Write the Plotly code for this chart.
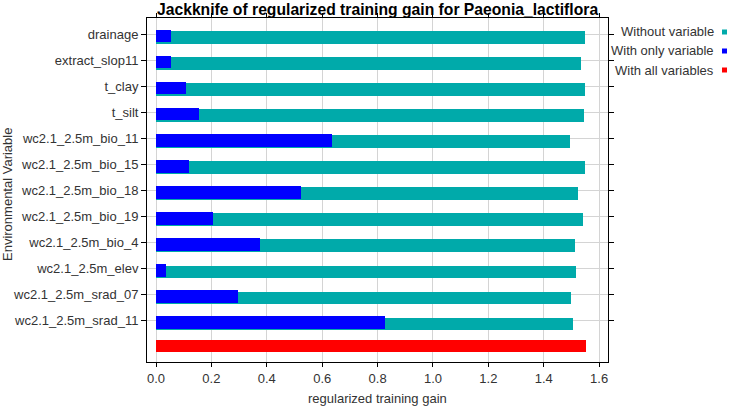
import plotly.graph_objects as go

variables = ["drainage", "extract_slop11", "t_clay", "t_silt", "wc2.1_2.5m_bio_11",
             "wc2.1_2.5m_bio_15", "wc2.1_2.5m_bio_18", "wc2.1_2.5m_bio_19",
             "wc2.1_2.5m_bio_4", "wc2.1_2.5m_elev", "wc2.1_2.5m_srad_07",
             "wc2.1_2.5m_srad_11"]
without_variable = [1.548, 1.533, 1.548, 1.544, 1.493, 1.548, 1.524, 1.540,
                    1.514, 1.517, 1.498, 1.505]
with_only_variable = [0.053, 0.053, 0.107, 0.154, 0.636, 0.119, 0.525, 0.207,
                      0.377, 0.037, 0.297, 0.828]
with_all_variables = 1.551

x_ticks = [0.0, 0.2, 0.4, 0.6, 0.8, 1.0, 1.2, 1.4, 1.6]
x_tick_labels = ["0.0", "0.2", "0.4", "0.6", "0.8", "1.0", "1.2", "1.4", "1.6"]

CYAN = "#00AAAA"
BLUE = "#0000FF"
RED = "#FF0000"

rows = list(range(len(variables)))
all_row = len(variables)

fig = go.Figure()
fig.add_trace(go.Bar(y=rows, x=without_variable, orientation="h",
                     marker=dict(color=CYAN, line=dict(width=0)),
                     width=0.48, offset=-0.12, showlegend=False))
fig.add_trace(go.Bar(y=rows, x=with_only_variable, orientation="h",
                     marker=dict(color=BLUE, line=dict(width=0)),
                     width=0.48, offset=-0.17, showlegend=False))
fig.add_trace(go.Bar(y=[all_row], x=[with_all_variables], orientation="h",
                     marker=dict(color=RED, line=dict(width=0)),
                     width=0.46, offset=-0.26, showlegend=False))

font_family = "Liberation Sans, Arial, sans-serif"
TXT = "#333333"
FS = 13

fig.update_layout(
    width=731, height=407,
    margin=dict(l=147, r=123, t=18, b=45),
    paper_bgcolor="white", plot_bgcolor="white",
    barmode="overlay", bargap=0,
    font=dict(family=font_family, size=FS, color=TXT),
    showlegend=False,
)
fig.update_xaxes(
    range=[-0.0325, 1.632], tickvals=x_ticks, ticktext=x_tick_labels,
    showgrid=True, gridcolor="#d4d4d4", gridwidth=1, zeroline=False,
    showline=True, linecolor="black", linewidth=1, mirror="ticks",
    ticks="outside", ticklen=4, tickcolor="black",
    tickfont=dict(size=FS, color=TXT),
)
fig.update_yaxes(
    range=[12.586, -0.625], tickvals=rows, ticktext=variables,
    showgrid=True, gridcolor="#d4d4d4", gridwidth=1, zeroline=False,
    showline=True, linecolor="black", linewidth=1, mirror="ticks",
    ticks="outside", ticklen=5, tickcolor="black",
    tickfont=dict(size=FS, color=TXT),
)

annotations = [
    dict(text="<b>Jackknife of regularized training gain for Paeonia_lactiflora</b>",
         xref="paper", yref="paper", x=0.5, y=1, yshift=9, showarrow=False,
         xanchor="center", yanchor="middle", font=dict(size=15.7, color="black")),
    dict(text="regularized training gain", xref="paper", yref="paper",
         x=0.5, y=0, yshift=-36, showarrow=False, xanchor="center",
         yanchor="middle", font=dict(size=FS, color=TXT)),
    dict(text="Environmental Variable", xref="paper", yref="paper",
         x=0, y=0.5, xshift=-140, yshift=-5, showarrow=False, textangle=-90,
         xanchor="center", yanchor="middle", font=dict(size=FS, color=TXT)),
]

legend_items = [("Without variable", CYAN), ("With only variable", BLUE),
                ("With all variables", RED)]
shapes = []
plot_w, plot_h = 731 - 147 - 123, 407 - 18 - 45
for k, (label, color) in enumerate(legend_items):
    py = 32 + 19 * k
    yp = (362 - py) / plot_h
    annotations.append(dict(text=label, xref="paper", yref="paper",
                            x=(716 - 147) / plot_w, y=yp, showarrow=False,
                            xanchor="right", yanchor="middle",
                            font=dict(size=FS, color=TXT)))
    shapes.append(dict(type="rect", xref="paper", yref="paper",
                       x0=(722 - 147) / plot_w, x1=(727 - 147) / plot_w,
                       y0=(362 - py - 2.5) / plot_h, y1=(362 - py + 2.5) / plot_h,
                       fillcolor=color, line=dict(width=0)))

fig.update_layout(annotations=annotations, shapes=shapes)
fig.write_html("out.html")
